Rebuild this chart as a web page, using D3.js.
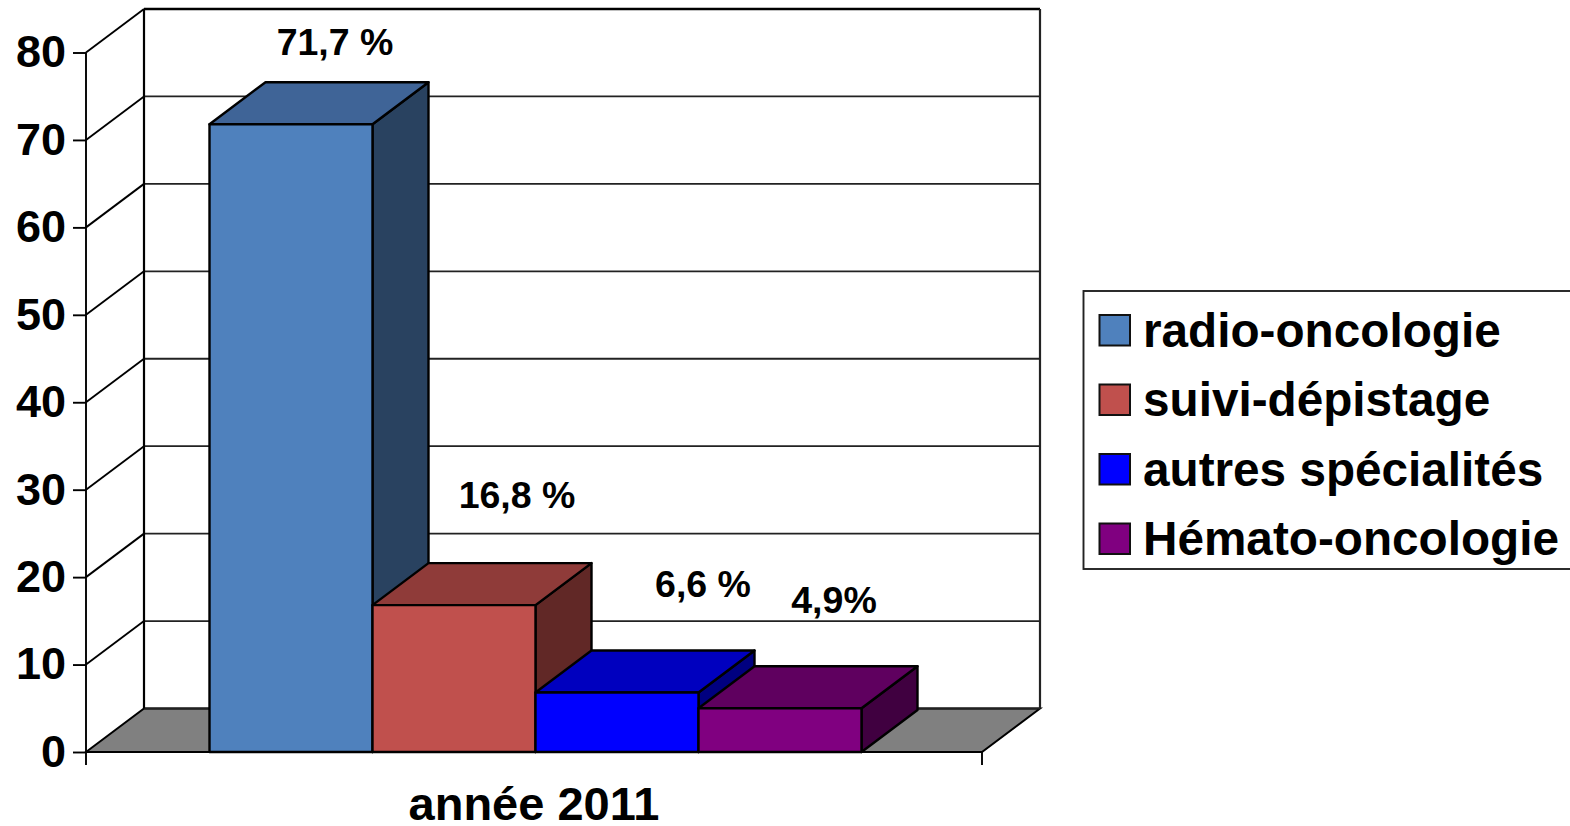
<!DOCTYPE html>
<html><head><meta charset="utf-8">
<style>html,body{margin:0;padding:0;background:#fff;overflow:hidden}svg{display:block}text{font-family:"Liberation Sans",Arial,sans-serif;font-weight:bold;fill:#000}</style>
<script src="https://cdn.jsdelivr.net/npm/d3@7"></script></head><body>
<script>
const categories = ["radio-oncologie","suivi-dépistage","autres spécialités","Hémato-oncologie"];
const values = [71.8,16.8,6.8,5.0];
const valueLabels = ["71,7 %","16,8 %","6,6 %","4,9%"];
const fills = ["#4f81bd","#c0504d","#0000ff","#800080"];
const topFills = ["#3f6497","#8f3b39","#0000bf","#5f005f"];
const sideFills = ["#294260","#612826","#000080","#400040"];
const yTicks = [0,10,20,30,40,50,60,70,80];
const xLabel = "année 2011";

const W=1570,H=826;
const svg=d3.select("body").append("svg").attr("width",W).attr("height",H);
const y=d3.scaleLinear().domain([0,80]).range([752,52.5]);
const x=d3.scaleBand().domain(categories).range([209.5,861.5]);
const wallDx=58,wallDy=-43.5,barDx=56,barDy=-42;
const x0=86,x1=982;
const P=a=>a.map(p=>p.join(",")).join(" ");

svg.append("polygon").attr("points",P([[x0,y(0)],[x0+wallDx,y(0)+wallDy],[x1+wallDx,y(0)+wallDy],[x1,y(0)]])).attr("fill","#808080").attr("stroke","#000").attr("stroke-width",2);
const grid=svg.append("g").attr("fill","none");
yTicks.forEach(t=>{
  const yy=y(t), sw=t===80?2.4:1.8;
  if(t>0) grid.append("path").attr("d",`M${x0},${yy}L${x0+wallDx},${yy+wallDy}`).attr("stroke","#000").attr("stroke-width",1.9);
  grid.append("path").attr("d",`M${x0+wallDx},${yy+wallDy}H${x1+wallDx}`).attr("stroke",t===80?"#000":"#222").attr("stroke-width",sw);
});
grid.append("path").attr("d",`M${x0+wallDx},${y(80)+wallDy}V${y(0)+wallDy}`).attr("stroke","#000").attr("stroke-width",2.2);
grid.append("path").attr("d",`M${x1+wallDx},${y(80)+wallDy}V${y(0)+wallDy}`).attr("stroke","#222").attr("stroke-width",2.2);

const ax=svg.append("g").attr("transform",`translate(${x0},0)`).call(d3.axisLeft(y).tickValues(yTicks).tickSize(13).tickSizeOuter(0).tickPadding(6));
ax.selectAll("path,line").attr("stroke","#000").attr("stroke-width",1.9);
ax.selectAll("line").attr("x1",0);
ax.selectAll("text").attr("font-size",45).attr("x",-20).attr("dy","0.32em").style("font-family",'"Liberation Sans"').style("font-weight","bold");
ax.select(".domain").attr("d",`M0,${y(80)}V${y(0)+13}`);
svg.append("path").attr("d",`M${x1},${y(0)}v13`).attr("stroke","#000").attr("stroke-width",1.9);

const bars=svg.append("g").attr("stroke","#000").attr("stroke-width",2.4).attr("stroke-linejoin","round");
categories.forEach((c,i)=>{
  const l=x(c),r=l+x.bandwidth(),t=y(values[i]),b=y(0);
  bars.append("polygon").attr("points",P([[r,t],[r+barDx,t+barDy],[r+barDx,b+barDy],[r,b]])).attr("fill",sideFills[i]);
  bars.append("polygon").attr("points",P([[l,t],[l+barDx,t+barDy],[r+barDx,t+barDy],[r,t]])).attr("fill",topFills[i]);
  bars.append("rect").attr("x",l).attr("y",t).attr("width",x.bandwidth()).attr("height",b-t).attr("fill",fills[i]);
});

const labelOffsets=[[44,-69],[63,-97],[86,-96],[54,-95]];
categories.forEach((c,i)=>{
  svg.append("text").attr("x",x(c)+x.bandwidth()/2+labelOffsets[i][0]).attr("y",y(values[i])+labelOffsets[i][1])
    .attr("text-anchor","middle").attr("font-size",37.5).text(valueLabels[i]);
});

svg.append("text").attr("x",534).attr("y",820).attr("text-anchor","middle").attr("font-size",47).text(xLabel);

const lg=svg.append("g");
lg.append("rect").attr("x",1083.5).attr("y",291).attr("width",600).attr("height",278).attr("fill","#fff").attr("stroke","#222").attr("stroke-width",1.9);
const ly=d3.scalePoint().domain(categories).range([330,538.5]);
categories.forEach((c,i)=>{
  lg.append("rect").attr("x",1099.5).attr("y",ly(c)-15).attr("width",30.5).attr("height",30.5).attr("fill",fills[i]).attr("stroke","#111").attr("stroke-width",2);
  lg.append("text").attr("x",1143).attr("y",ly(c)+16.5).attr("font-size",47.7).text(c);
});
</script></body></html>
